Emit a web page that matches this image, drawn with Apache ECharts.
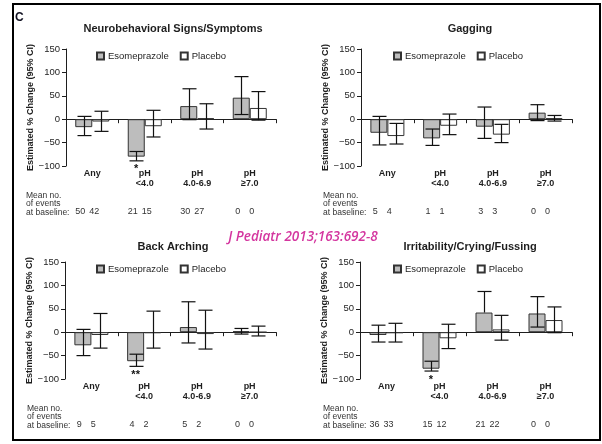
<!DOCTYPE html>
<html>
<head>
<meta charset="utf-8">
<script src="https://cdn.jsdelivr.net/npm/echarts@6/dist/echarts.min.js"></script>
<style>
html,body{margin:0;padding:0;background:#fff;}
#chart{width:602px;height:444px;}
</style>
</head>
<body>
<div id="chart"></div>
<script>
// ---------------- DATA ----------------
const categories = ['Any', 'pH\n<4.0', 'pH\n4.0-6.9', 'pH\n\u22657.0'];
const seriesNames = ['Esomeprazole', 'Placebo'];
const panelTitles = ['Neurobehavioral Signs/Symptoms', 'Gagging', 'Back Arching', 'Irritability/Crying/Fussing'];
const yAxisTitle = 'Estimated % Change (95% CI)';
const yMin = -100, yMax = 150, yStep = 50;
const baselineLabel = 'Mean no.\nof events\nat baseline:';
const sourceText = 'J Pediatr 2013;163:692-8';
const panelLetter = 'C';

// Neurobehavioral Signs/Symptoms
const neuroEso = [-17, -80, 28, 46];
const neuroEsoLow = [-35, -89, -1, 10];
const neuroEsoHigh = [6, -69, 65, 91];
const neuroPla = [-5, -15, 2, 24];
const neuroPlaLow = [-26, -38, -21, -2];
const neuroPlaHigh = [17, 19, 33, 59];
const neuroBaseEso = [50, 21, 30, 0];
const neuroBasePla = [42, 15, 27, 0];
const neuroStars = ['', '*', '', ''];

// Gagging
const gagEso = [-29, -41, -16, 14];
const gagEsoLow = [-55, -56, -41, -3];
const gagEsoHigh = [6, -21, 26, 31];
const gagPla = [-36, -14, -33, 2];
const gagPlaLow = [-53, -33, -50, -4];
const gagPlaHigh = [-9, 11, -11, 8];
const gagBaseEso = [5, 1, 3, 0];
const gagBasePla = [4, 1, 3, 0];
const gagStars = ['', '', '', ''];

// Back Arching
const archEso = [-28, -62, 11, 2];
const archEsoLow = [-50, -73, -23, -4];
const archEsoHigh = [6, -47, 65, 8];
const archPla = [-6, -2, -4, 0];
const archPlaLow = [-34, -34, -36, -8];
const archPlaHigh = [40, 45, 47, 13];
const archBaseEso = [9, 4, 5, 0];
const archBasePla = [5, 2, 2, 0];
const archStars = ['', '**', '', ''];

// Irritability/Crying/Fussing
const irrEso = [-6, -78, 42, 40];
const irrEsoLow = [-21, -83, null, 11];
const irrEsoHigh = [15, -62, 87, 76];
const irrPla = [-2, -13, 6, 26];
const irrPlaLow = [-21, -35, -17, -1];
const irrPlaHigh = [19, 17, 36, 54];
const irrBaseEso = [36, 15, 21, 0];
const irrBasePla = [33, 12, 22, 0];
const irrStars = ['', '*', '', ''];

// ---------------- LAYOUT / STYLE ----------------
const FONT = "'Liberation Sans', Arial, sans-serif";
const INK = '#1e1e1e';
const panels = [
  {eso: neuroEso, esoLo: neuroEsoLow, esoHi: neuroEsoHigh, pla: neuroPla, plaLo: neuroPlaLow, plaHi: neuroPlaHigh, bE: neuroBaseEso, bP: neuroBasePla, stars: neuroStars,
   grid: {left: 66, top: 49, width: 210, height: 117}, titleX: 173, titleY: 29, legX: 96, legY: 51, baseX: 26, baseY: 191},
  {eso: gagEso, esoLo: gagEsoLow, esoHi: gagEsoHigh, pla: gagPla, plaLo: gagPlaLow, plaHi: gagPlaHigh, bE: gagBaseEso, bP: gagBasePla, stars: gagStars,
   grid: {left: 361, top: 49, width: 211, height: 117}, titleX: 470, titleY: 29, legX: 393, legY: 51, baseX: 323, baseY: 191},
  {eso: archEso, esoLo: archEsoLow, esoHi: archEsoHigh, pla: archPla, plaLo: archPlaLow, plaHi: archPlaHigh, bE: archBaseEso, bP: archBasePla, stars: archStars,
   grid: {left: 65, top: 262, width: 211, height: 117}, titleX: 173, titleY: 247, legX: 96, legY: 264, baseX: 27, baseY: 404},
  {eso: irrEso, esoLo: irrEsoLow, esoHi: irrEsoHigh, pla: irrPla, plaLo: irrPlaLow, plaHi: irrPlaHigh, bE: irrBaseEso, bP: irrBasePla, stars: irrStars,
   grid: {left: 360, top: 262, width: 212, height: 117}, titleX: 470, titleY: 247, legX: 393, legY: 264, baseX: 323, baseY: 404}
];

const BAR_W = 17;
const HALF = BAR_W / 2;
const CAP = 7;

function errorRenderer(offset) {
  return function (params, api) {
    const idx = api.value(0);
    const lo = api.value(1), hi = api.value(2), v = api.value(3);
    const x = Math.round(api.coord([idx, 0])[0] + offset) + 0.5;
    const yHi = api.coord([idx, hi])[1];
    const hasLo = !(lo == null || isNaN(lo));
    const yLo = api.coord([idx, hasLo ? lo : v])[1];
    const st = {stroke: '#111', lineWidth: 1.2};
    const children = [
      {type: 'line', shape: {x1: x, y1: yHi, x2: x, y2: yLo}, style: st},
      {type: 'line', shape: {x1: x - CAP, y1: yHi, x2: x + CAP, y2: yHi}, style: st}
    ];
    if (hasLo) children.push({type: 'line', shape: {x1: x - CAP, y1: yLo, x2: x + CAP, y2: yLo}, style: st});
    return {type: 'group', children: children};
  };
}

const grids = [], xAxes = [], yAxes = [], series = [], legends = [], graphics = [];

panels.forEach(function (p, i) {
  grids.push(Object.assign({containLabel: false}, p.grid));
  // zero-line axis with ticks
  xAxes.push({
    gridIndex: i, type: 'category', data: categories, position: 'bottom',
    axisLine: {show: true, onZero: true, lineStyle: {color: INK, width: 1}},
    axisTick: {show: true, length: 4, interval: 0, lineStyle: {color: INK, width: 1}},
    axisLabel: {show: false}, splitLine: {show: false}
  });
  // label axis at the bottom
  xAxes.push({
    gridIndex: i, type: 'category', data: categories, position: 'bottom',
    axisLine: {show: false, onZero: false}, axisTick: {show: false}, splitLine: {show: false},
    axisLabel: {show: true, interval: 0, margin: 3, color: INK, fontFamily: FONT, fontWeight: 'bold', fontSize: 9, lineHeight: 10}
  });
  yAxes.push({
    gridIndex: i, type: 'value', min: yMin, max: yMax, interval: yStep,
    name: yAxisTitle, nameLocation: 'middle', nameGap: 25, nameRotate: 90,
    nameTextStyle: {color: INK, fontFamily: FONT, fontWeight: 'bold', fontSize: 9},
    axisLine: {show: true, onZero: false, lineStyle: {color: INK, width: 1}},
    axisTick: {show: true, length: 4, lineStyle: {color: INK, width: 1}},
    splitLine: {show: false},
    axisLabel: {show: true, margin: 6, color: INK, fontFamily: FONT, fontSize: 9.5,
      formatter: function (v) { return v < 0 ? '\u2212' + Math.abs(v) : String(v); }}
  });
  const xi = 2 * i;
  series.push({
    name: seriesNames[0], type: 'bar', xAxisIndex: xi, yAxisIndex: i, data: p.eso,
    barWidth: BAR_W, barGap: '0%', z: 2,
    itemStyle: {color: '#bdbdbd', borderColor: '#333', borderWidth: 1}
  });
  series.push({
    name: seriesNames[1], type: 'bar', xAxisIndex: xi, yAxisIndex: i, data: p.pla,
    barWidth: BAR_W, barGap: '0%', z: 2,
    itemStyle: {color: '#ffffff', borderColor: '#333', borderWidth: 1}
  });
  series.push({
    type: 'custom', xAxisIndex: xi, yAxisIndex: i, z: 5, silent: true,
    encode: {x: 0, y: [1, 2]},
    data: p.eso.map(function (v, k) { return [k, p.esoLo[k], p.esoHi[k], v]; }),
    renderItem: errorRenderer(-HALF)
  });
  series.push({
    type: 'custom', xAxisIndex: xi, yAxisIndex: i, z: 5, silent: true,
    encode: {x: 0, y: [1, 2]},
    data: p.pla.map(function (v, k) { return [k, p.plaLo[k], p.plaHi[k], v]; }),
    renderItem: errorRenderer(HALF)
  });
  // significance stars
  const starData = [];
  p.stars.forEach(function (s, k) { if (s) starData.push([k, p.esoLo[k]]); });
  const starIdx = [];
  p.stars.forEach(function (s, k) { if (s) starIdx.push(k); });
  if (starData.length) {
    series.push({
      type: 'custom', xAxisIndex: xi, yAxisIndex: i, z: 6, silent: true,
      encode: {x: 0, y: 1}, data: starData,
      renderItem: function (params, api) {
        const idx = api.value(0);
        const c = api.coord([idx, api.value(1)]);
        return {type: 'text', x: c[0] - HALF, y: c[1] + 3,
          style: {text: p.stars[starIdx[params.dataIndex]], fill: '#111', font: 'bold 11px ' + FONT,
            align: 'center', verticalAlign: 'top', textAlign: 'center', textVerticalAlign: 'top'}};
      }
    });
  }
  // baseline counts
  series.push({
    type: 'custom', xAxisIndex: xi, yAxisIndex: i, z: 6, silent: true,
    encode: {x: 0}, data: p.bE.map(function (v, k) { return [k, v, p.bP[k]]; }),
    renderItem: function (params, api) {
      const idx = api.value(0);
      const cx = api.coord([idx, yMin]);
      const y = cx[1] + 46;
      const st = function (t) { return {text: String(t), fill: '#333', font: '9px ' + FONT,
        align: 'center', verticalAlign: 'middle', textAlign: 'center', textVerticalAlign: 'middle'}; };
      return {type: 'group', children: [
        {type: 'text', x: cx[0] - 12, y: y, style: st(api.value(1))},
        {type: 'text', x: cx[0] + 2, y: y, style: st(api.value(2))}
      ]};
    }
  });
  legends.push({
    data: seriesNames, left: p.legX, top: p.legY, padding: 0, itemGap: 11,
    itemWidth: 7, itemHeight: 7, icon: 'rect', selectedMode: false,
    textStyle: {color: INK, fontFamily: FONT, fontSize: 9.5, padding: [0, 0, 0, -1]}
  });
  graphics.push({type: 'text', x: p.titleX, y: p.titleY,
    style: {text: panelTitles[i], fill: INK, font: 'bold 11px ' + FONT,
      align: 'center', verticalAlign: 'middle', textAlign: 'center', textVerticalAlign: 'middle'}});
  graphics.push({type: 'text', x: p.baseX, y: p.baseY,
    style: {text: baselineLabel, fill: '#333', font: '8.5px ' + FONT, lineHeight: 8.5,
      align: 'left', verticalAlign: 'top', textAlign: 'left', textVerticalAlign: 'top'}});
});

graphics.push({type: 'rect', shape: {x: 13, y: 4, width: 587, height: 436},
  style: {fill: 'none', stroke: '#000', lineWidth: 2}, z: 100});
graphics.push({type: 'text', x: 15, y: 12,
  style: {text: panelLetter, fill: '#101020', font: 'bold 12px ' + FONT,
    align: 'left', verticalAlign: 'top', textAlign: 'left', textVerticalAlign: 'top'}});
graphics.push({type: 'text', x: 303, y: 237,
  style: {text: sourceText, fill: '#d4369f', font: 'italic 600 13.5px "Open Sans", sans-serif',
    align: 'center', verticalAlign: 'middle', textAlign: 'center', textVerticalAlign: 'middle'}});

const chart = echarts.init(document.getElementById('chart'), null, {renderer: 'canvas'});
chart.setOption({
  animation: false,
  backgroundColor: '#ffffff',
  textStyle: {fontFamily: FONT},
  grid: grids, xAxis: xAxes, yAxis: yAxes, series: series, legend: legends,
  graphic: {elements: graphics}
});
</script>
</body>
</html>
